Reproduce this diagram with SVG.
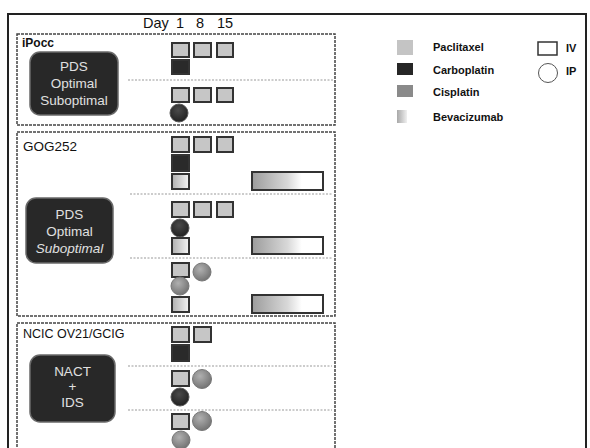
<svg xmlns="http://www.w3.org/2000/svg" width="590" height="448" viewBox="0 0 590 448">
<defs>
<linearGradient id="bev" x1="0" y1="0" x2="1" y2="0">
<stop offset="0" stop-color="#9c9c9c"/>
<stop offset="0.5" stop-color="#d8d8d8"/>
<stop offset="0.7" stop-color="#ffffff"/>
</linearGradient>
<linearGradient id="bevsq" x1="0" y1="0" x2="1" y2="0">
<stop offset="0" stop-color="#b0b0b0"/>
<stop offset="1" stop-color="#f4f4f4"/>
</linearGradient>
<linearGradient id="bevlg" x1="0" y1="0" x2="1" y2="0">
<stop offset="0" stop-color="#a8a8a8"/>
<stop offset="1" stop-color="#f0f0f0"/>
</linearGradient>
<radialGradient id="cis" cx="0.4" cy="0.35" r="0.7">
<stop offset="0" stop-color="#b0b0b0"/>
<stop offset="1" stop-color="#707070"/>
</radialGradient>
<radialGradient id="carbo" cx="0.45" cy="0.35" r="0.7">
<stop offset="0" stop-color="#4a4a4a"/>
<stop offset="1" stop-color="#1e1e1e"/>
</radialGradient>
</defs>
<style>
text{font-family:"Liberation Sans",Arial,sans-serif;fill:#111}
.frame{fill:none;stroke:#222;stroke-width:2}
.panel{fill:none;stroke:#444;stroke-width:1.5;stroke-dasharray:3 1}
.sep{stroke:#999;stroke-width:1;stroke-dasharray:2 1.5}
.pac{fill:#c6c6c6;stroke:#333;stroke-width:2}
.car{fill:#2a2a2a;stroke:#333;stroke-width:2}
.bsq{fill:url(#bevsq);stroke:#333;stroke-width:2}
.bar{fill:url(#bev);stroke:#333;stroke-width:2}
.cis{fill:url(#cis);stroke:#777;stroke-width:1}
.cipc{fill:url(#carbo);stroke:#555;stroke-width:1}
.dark{fill:#282828;stroke:#6a6a6a;stroke-width:1.5}
.wt{fill:#e0e0e0;font-size:13.5px;text-anchor:middle}
.lg{font-size:11px;font-weight:bold}
</style>
<rect class="frame" x="8" y="14" width="578" height="450"/>
<g id="header">
<text x="143" y="28" font-size="14.5">Day</text>
<text x="180" y="28" font-size="14.5" text-anchor="middle">1</text>
<text x="200" y="28" font-size="14.5" text-anchor="middle">8</text>
<text x="225" y="28" font-size="14.5" text-anchor="middle">15</text>
</g>
<g id="connectors">
<line class="sep" x1="128" y1="80" x2="333" y2="80"/>
<line class="sep" x1="130" y1="194" x2="333" y2="194"/>
<line class="sep" x1="130" y1="258" x2="333" y2="258"/>
<line class="sep" x1="128" y1="366" x2="332" y2="366"/>
<line class="sep" x1="128" y1="410" x2="332" y2="410"/>
</g>
<g id="ipocc">
<rect class="panel" x="17" y="34" width="318" height="91"/>
<text x="22" y="47" font-size="12" font-weight="bold">iPocc</text>
<rect class="dark" x="30" y="52" width="88" height="63" rx="10"/>
<text class="wt" x="74" y="71">PDS</text>
<text class="wt" x="74" y="88">Optimal</text>
<text class="wt" x="74" y="105">Suboptimal</text>
<rect class="pac" x="172" y="43" width="17" height="14"/>
<rect class="pac" x="194" y="43" width="17" height="14"/>
<rect class="pac" x="217" y="43" width="16" height="14"/>
<rect class="car" x="172" y="60" width="17" height="14"/>
<rect class="pac" x="172" y="88" width="17" height="14"/>
<rect class="pac" x="194" y="88" width="17" height="14"/>
<rect class="pac" x="217" y="88" width="16" height="14"/>
<circle class="cipc" cx="179" cy="113" r="9"/>
</g>
<g id="gog252">
<rect class="panel" x="17" y="132" width="318" height="184"/>
<text x="23" y="151" font-size="13.5">GOG252</text>
<rect class="dark" x="26" y="198" width="87" height="65" rx="10"/>
<text class="wt" x="69.5" y="219">PDS</text>
<text class="wt" x="69.5" y="236">Optimal</text>
<text class="wt" x="69.5" y="253" font-style="italic">Suboptimal</text>
<rect class="pac" x="172" y="137" width="17" height="15"/>
<rect class="pac" x="194" y="137" width="17" height="15"/>
<rect class="pac" x="217" y="137" width="16" height="15"/>
<rect class="car" x="172" y="155" width="17" height="16"/>
<rect class="bsq" x="172" y="174" width="17" height="15"/>
<rect class="bar" x="252" y="172" width="71" height="18"/>
<rect class="pac" x="172" y="202" width="17" height="15"/>
<rect class="pac" x="194" y="202" width="17" height="15"/>
<rect class="pac" x="217" y="202" width="16" height="15"/>
<circle class="cipc" cx="180" cy="228" r="9"/>
<rect class="bsq" x="172" y="238" width="17" height="16"/>
<rect class="bar" x="252" y="237" width="71" height="17"/>
<rect class="pac" x="172" y="263" width="17" height="14"/>
<circle class="cis" cx="202" cy="272" r="9"/>
<circle class="cis" cx="180" cy="286" r="9"/>
<rect class="bsq" x="172" y="297" width="17" height="15"/>
<rect class="bar" x="252" y="295" width="71" height="18"/>
</g>
<g id="ncic">
<rect class="panel" x="17" y="323" width="318" height="140"/>
<text x="23" y="338" font-size="12.5">NCIC OV21/GCIG</text>
<rect class="dark" x="30" y="355" width="85" height="67" rx="10"/>
<text class="wt" x="72.5" y="376">NACT</text>
<text class="wt" x="72.5" y="391" font-size="12">+</text>
<text class="wt" x="72.5" y="407">IDS</text>
<rect class="pac" x="172" y="327" width="17" height="15"/>
<rect class="pac" x="194" y="327" width="17" height="15"/>
<rect class="car" x="172" y="345" width="17" height="16"/>
<rect class="pac" x="172" y="371" width="17" height="15"/>
<circle class="cis" cx="202" cy="379" r="9.5"/>
<circle class="cipc" cx="180" cy="397" r="9"/>
<rect class="pac" x="172" y="414" width="17" height="15"/>
<circle class="cis" cx="202" cy="421" r="9.5"/>
<circle class="cis" cx="181" cy="440" r="9"/>
</g>
<g id="legend">
<rect x="397" y="40" width="16" height="15" fill="#c4c4c4"/>
<text class="lg" x="433" y="51">Paclitaxel</text>
<rect x="397" y="63" width="16" height="12" fill="#262626"/>
<text class="lg" x="433" y="74">Carboplatin</text>
<rect x="397" y="85" width="16" height="12" fill="#8a8a8a"/>
<text class="lg" x="433" y="96">Cisplatin</text>
<rect x="397" y="110" width="10" height="13" fill="url(#bevlg)"/>
<text class="lg" x="433" y="121">Bevacizumab</text>
<rect x="538" y="42" width="19" height="13" fill="none" stroke="#333" stroke-width="1.5"/>
<text class="lg" x="566" y="52">IV</text>
<circle cx="548" cy="73" r="9.5" fill="none" stroke="#555" stroke-width="1"/>
<text class="lg" x="566" y="75">IP</text>
</g>
</svg>
